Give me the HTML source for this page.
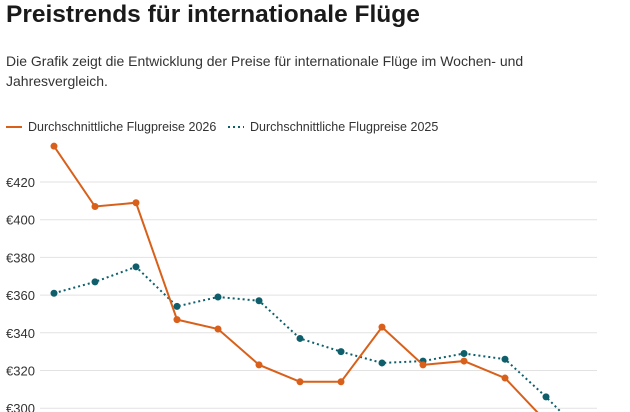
<!DOCTYPE html>
<html><head><meta charset="utf-8"><style>
html,body{margin:0;width:630px;height:412px;overflow:hidden;background:#fff;font-family:"Liberation Sans",sans-serif;color:#222}
h1{position:absolute;left:6px;top:1px;margin:0;font-size:24.5px;font-weight:bold;color:#1a1a1a}
p{position:absolute;left:6px;top:52px;margin:0;font-size:14px;line-height:19.5px;width:600px;color:#333}
svg{position:absolute;left:0;top:0;overflow:hidden}
</style></head><body>
<h1>Preistrends für internationale Flüge</h1>
<p>Die Grafik zeigt die Entwicklung der Preise für internationale Flüge im Wochen- und Jahresvergleich.</p>
<svg id="c" width="630" height="412" viewBox="0 0 630 412"></svg>
<script>
const weeks=[1,2,3,4,5,6,7,8,9,10,11,12,13,14];
const prices2026=[439,407,409,347,342,323,314,314,343,323,325,316,293,280];
const prices2025=[361,367,375,354,359,357,337,330,324,325,329,326,306,284];
const ticks=[300,320,340,360,380,400,420];
const NS="http://www.w3.org/2000/svg";
const svg=document.getElementById('c');
const x=i=>54+i*41;
const y=v=>182+(420-v)*1.885;
const g0=document.createElementNS(NS,'g');
svg.appendChild(g0);
const defs=document.createElementNS(NS,'defs');
defs.innerHTML='<clipPath id="cp"><rect x="0" y="0" width="630" height="412"/></clipPath>';
svg.appendChild(defs);
const root=document.createElementNS(NS,'g');root.setAttribute('clip-path','url(#cp)');svg.appendChild(root);
function mk(t,a){const e=document.createElementNS(NS,t);for(const k in a)e.setAttribute(k,a[k]);root.appendChild(e);return e;}
ticks.forEach(t=>{
  const l=mk('line',{x1:40,x2:597,y1:y(t),y2:y(t),stroke:'#e2e2e2','stroke-width':1});
  
  
  const tx=mk('text',{x:6,y:y(t)+5,'font-size':13,fill:'#333'});
  tx.textContent='€'+t;
  
  
});
function series(vals,col,dash,name){
  const pts=vals.map((v,i)=>x(i)+','+y(v)).join(' ');
  const pl=mk('polyline',{points:pts,fill:'none',stroke:col,'stroke-width':2,'stroke-dasharray':dash});
  
  
  vals.forEach((v,i)=>{
    if(y(v)>420)return;
    const c=mk('circle',{cx:x(i),cy:y(v),r:3.5,fill:col});
    
    
  });
}
series(prices2025,'#0e5f6b','2 3','series-2025');
series(prices2026,'#d9601a','','series-2026');
const l1=mk('line',{x1:6,x2:22,y1:127,y2:127,stroke:'#d9601a','stroke-width':2});


const t1=mk('text',{x:28,y:131,'font-size':12.5,fill:'#333'});t1.textContent='Durchschnittliche Flugpreise 2026';


const l2=mk('line',{x1:228,x2:244,y1:127,y2:127,stroke:'#0e5f6b','stroke-width':2,'stroke-dasharray':'2 3'});


const t2=mk('text',{x:250,y:131,'font-size':12.5,fill:'#333'});t2.textContent='Durchschnittliche Flugpreise 2025';


</script>
</body></html>
